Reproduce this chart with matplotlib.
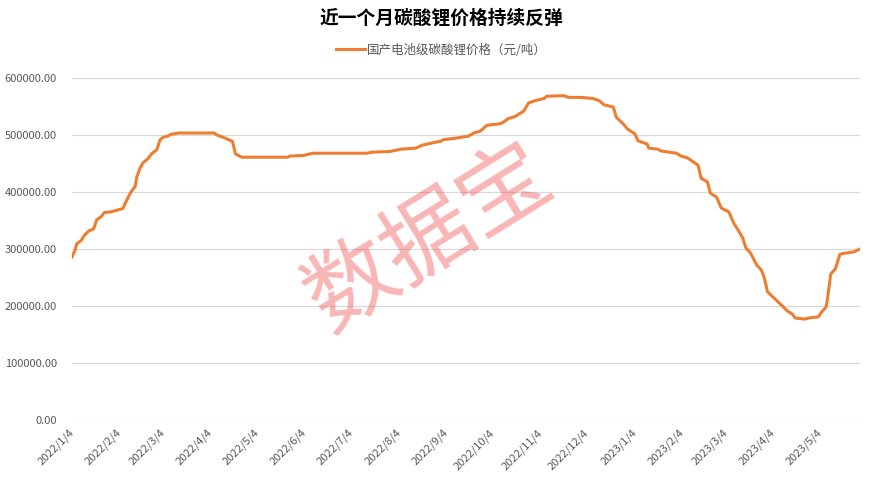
import matplotlib
matplotlib.use("Agg")
import matplotlib.pyplot as plt
import matplotlib.dates as mdates
from matplotlib.ticker import FuncFormatter, FixedLocator
import pandas as pd

plt.rcParams['font.family'] = ['Noto Sans CJK SC', 'DejaVu Sans']

title = "近一个月碳酸锂价格持续反弹"
series_name = "国产电池级碳酸锂价格（元/吨）"
watermark = "数据宝"

dates = [
    "2022-01-04", "2022-01-06", "2022-01-07", "2022-01-10", "2022-01-12", "2022-01-15",
    "2022-01-18", "2022-01-20", "2022-01-23", "2022-01-25", "2022-01-29", "2022-02-06",
    "2022-02-08", "2022-02-11", "2022-02-14", "2022-02-15", "2022-02-17", "2022-02-19",
    "2022-02-22", "2022-02-25", "2022-02-28", "2022-03-02", "2022-03-04", "2022-03-07",
    "2022-03-09", "2022-03-14", "2022-04-06", "2022-04-08", "2022-04-12", "2022-04-18",
    "2022-04-20", "2022-04-24", "2022-05-24", "2022-05-25", "2022-06-03", "2022-06-09",
    "2022-07-14", "2022-07-18", "2022-07-29", "2022-08-05", "2022-08-15", "2022-08-19",
    "2022-08-27", "2022-08-31", "2022-09-02", "2022-09-09", "2022-09-18", "2022-09-22",
    "2022-09-26", "2022-09-30", "2022-10-09", "2022-10-11", "2022-10-14", "2022-10-18",
    "2022-10-24", "2022-10-27", "2022-10-31", "2022-11-06", "2022-11-08", "2022-11-19",
    "2022-11-22", "2022-11-30", "2022-12-08", "2022-12-12", "2022-12-15", "2022-12-21",
    "2022-12-23", "2022-12-28", "2022-12-30", "2023-01-04", "2023-01-06", "2023-01-12",
    "2023-01-13", "2023-01-19", "2023-01-21", "2023-01-31", "2023-02-03", "2023-02-07",
    "2023-02-14", "2023-02-16", "2023-02-20", "2023-02-22", "2023-02-26", "2023-03-01",
    "2023-03-06", "2023-03-09", "2023-03-12", "2023-03-15", "2023-03-17", "2023-03-20",
    "2023-03-24", "2023-03-27", "2023-03-29", "2023-03-31", "2023-04-07", "2023-04-13",
    "2023-04-16", "2023-04-18", "2023-04-24", "2023-04-27", "2023-05-03", "2023-05-05",
    "2023-05-08", "2023-05-09", "2023-05-11", "2023-05-14", "2023-05-17", "2023-05-21",
    "2023-05-26", "2023-05-30",
]
prices = [
    286000, 298000, 309000, 315000, 324000, 332000,
    335000, 351000, 357000, 364000, 365000, 371000,
    383000, 399000, 410000, 426000, 441000, 451000,
    458000, 468000, 474000, 491000, 496000, 498000,
    501000, 503500, 503500, 500000, 496000, 489000,
    467000, 461000, 461000, 463000, 464000, 468000,
    468000, 470000, 471000, 475000, 477000, 482000,
    487000, 489000, 492000, 494000, 498000, 504000,
    507000, 517000, 520000, 523000, 529000, 532000,
    542000, 556000, 560000, 564000, 568000, 569000,
    566000, 566000, 564000, 560000, 553000, 549000,
    531000, 518000, 511000, 502000, 490000, 484000,
    477000, 475000, 472000, 468000, 463000, 460000,
    447000, 424000, 418000, 398000, 391000, 372000,
    365000, 346000, 333000, 319000, 302000, 293000,
    272000, 263000, 249000, 225000, 207000, 191000,
    186000, 179000, 177000, 179000, 181000, 189000,
    198000, 214000, 256000, 265000, 291000, 293000,
    295000, 300000,
]

x_tick_dates = [
    "2022-01-04", "2022-02-04", "2022-03-04", "2022-04-04", "2022-05-04", "2022-06-04",
    "2022-07-04", "2022-08-04", "2022-09-04", "2022-10-04", "2022-11-04", "2022-12-04",
    "2023-01-04", "2023-02-04", "2023-03-04", "2023-04-04", "2023-05-04",
]
y_ticks = [0, 100000, 200000, 300000, 400000, 500000, 600000]

x = pd.to_datetime(dates)
xt = pd.to_datetime(x_tick_dates)
xt_labels = [f"{d.year}/{d.month}/{d.day}" for d in xt]

fig = plt.figure(figsize=(8.83, 4.8), dpi=100)
ax = fig.add_axes([72/883, 1-420/480, (860-72)/883, (420-78)/480])

ax.plot(x, prices, color="#ED7D31", linewidth=2.2, label=series_name,
        solid_joinstyle="round", zorder=3)

ax.set_ylim(0, 600000)
ax.set_xlim(pd.Timestamp("2022-01-04"), pd.Timestamp("2023-05-30"))
ax.yaxis.set_major_locator(FixedLocator(y_ticks))
ax.yaxis.set_major_formatter(FuncFormatter(lambda v, p: f"{v:.2f}"))
ax.set_xticks(mdates.date2num(xt))
ax.set_xticklabels(xt_labels, rotation=45, ha="right", va="center",
                   rotation_mode="anchor")

ax.grid(axis="y", color="#D9D9D9", linewidth=0.9, zorder=0)
ax.set_axisbelow(True)
for s in ax.spines.values():
    s.set_visible(False)
ax.tick_params(axis="both", length=0, colors="#595959", labelsize=8)
ax.tick_params(axis="y", pad=11)
ax.tick_params(axis="x", pad=8)

fig.text(0.5, 1-18/480, title, ha="center", va="center", fontsize=13.5,
         fontweight="bold", color="#000000")

leg = fig.legend(loc="center", bbox_to_anchor=(0.5, 1-50/480), frameon=False,
                 fontsize=9, handlelength=2.3, handletextpad=0.2,
                 borderpad=0)
for t in leg.get_texts():
    t.set_color("#595959")

fig.text(430, 241, watermark, transform=None, ha="center", va="center",
         fontsize=65, rotation=32, color="#F05050", alpha=0.42, zorder=5)

fig.savefig("out.png", dpi=100)
